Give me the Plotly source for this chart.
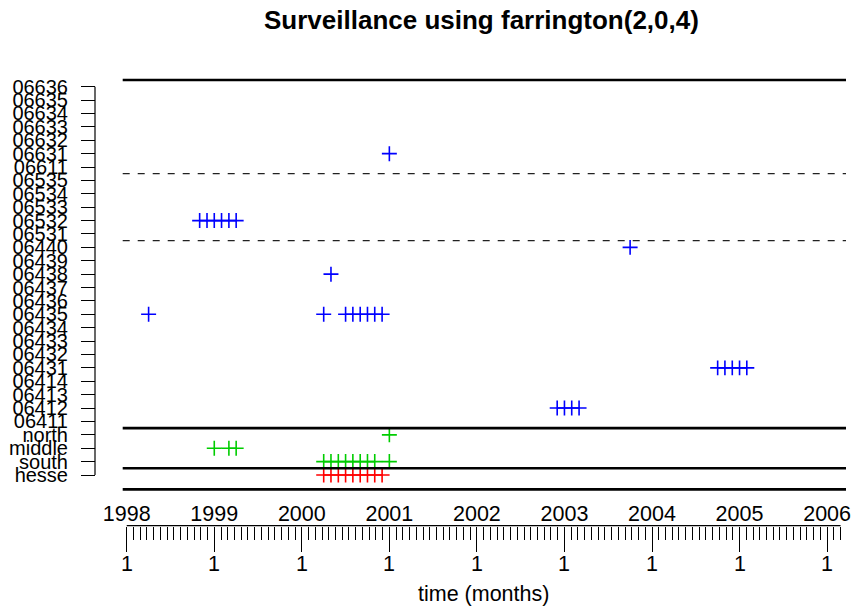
import plotly.graph_objects as go

# ---------------- data ----------------
levels = ["hesse", "south", "middle", "north",
          "06411", "06412", "06413", "06414", "06431", "06432", "06433",
          "06434", "06435", "06436", "06437", "06438", "06439", "06440",
          "06531", "06532", "06533", "06534", "06535", "06611",
          "06631", "06632", "06633", "06634", "06635", "06636"]

years = [1998, 1999, 2000, 2001, 2002, 2003, 2004, 2005, 2006]
year_labels = [str(y) for y in years]
period_labels = ["1"] * len(years)

# alarm times (decimal years) per level
alarm_hesse = [2000.25, 2000.333, 2000.417, 2000.5, 2000.583, 2000.667, 2000.75, 2000.833, 2000.917]
alarm_south = [2000.25, 2000.333, 2000.417, 2000.5, 2000.583, 2000.667, 2000.75, 2000.833, 2001.0]
alarm_middle = [1999.0, 1999.167, 1999.25]
alarm_north = [2001.0]
alarm_06412 = [2002.917, 2003.0, 2003.083, 2003.167]
alarm_06431 = [2004.75, 2004.833, 2004.917, 2005.0, 2005.083]
alarm_06435 = [1998.25, 2000.25, 2000.5, 2000.583, 2000.667, 2000.75, 2000.833, 2000.917]
alarm_06438 = [2000.333]
alarm_06440 = [2003.75]
alarm_06532 = [1998.833, 1998.917, 1999.0, 1999.083, 1999.167, 1999.25]
alarm_06631 = [2001.0]

series = [
    ("hesse", alarm_hesse, "#FF0000"),
    ("south", alarm_south, "#00CD00"),
    ("middle", alarm_middle, "#00CD00"),
    ("north", alarm_north, "#00CD00"),
    ("06412", alarm_06412, "#0000FF"),
    ("06431", alarm_06431, "#0000FF"),
    ("06435", alarm_06435, "#0000FF"),
    ("06438", alarm_06438, "#0000FF"),
    ("06440", alarm_06440, "#0000FF"),
    ("06532", alarm_06532, "#0000FF"),
    ("06631", alarm_06631, "#0000FF"),
]

solid_sep = [29.5, 3.5, 0.5, -1.07]
dashed_sep = [22.5, 17.5]

FONT = "Liberation Sans, Arial, Helvetica, sans-serif"

fig = go.Figure()
for name, times, col in series:
    idx = levels.index(name)
    fig.add_trace(go.Scatter(
        x=times, y=[idx] * len(times), mode="markers", name=name,
        marker=dict(symbol="cross-thin", size=10.7, color=col,
                    line=dict(width=1.6, color=col)),
        showlegend=False, hoverinfo="skip", cliponaxis=False))

# invisible trace to carry the year axis on top
fig.add_trace(go.Scatter(x=[years[0]], y=[0], xaxis="x2", mode="markers",
                         marker=dict(opacity=0), showlegend=False, hoverinfo="skip"))

xdom = [122.7 / 852, 846 / 852]
xr = [1997.954, 2006.216]
xpos = 1 - 525.7 / 613

minor_vals = [y + k / 13 for y in years for k in range(1, 13)]
minor_vals = [v for v in minor_vals if v <= years[-1] + 2 / 13 + 1e-9]

shapes = []
for yv in solid_sep:
    shapes.append(dict(type="line", xref="x domain", x0=0, x1=1, yref="y", y0=yv, y1=yv,
                       line=dict(color="black", width=2.6)))
for yv in dashed_sep:
    shapes.append(dict(type="line", xref="x domain", x0=0, x1=1, yref="y", y0=yv, y1=yv,
                       line=dict(color="#222222", width=1.3, dash="7px,8px")))
# y axis line from first to last tick
shapes.append(dict(type="line", xref="paper", x0=95 / 852, x1=95 / 852, yref="y",
                   y0=0, y1=len(levels) - 1, line=dict(color="black", width=1.2)))
# x axis line from first to last tick
shapes.append(dict(type="line", xref="x", x0=years[0], x1=years[-1] + 2 / 13,
                   yref="paper", y0=xpos, y1=xpos, line=dict(color="black", width=1.2)))

annotations = [
    dict(text="<b>Surveillance using farrington(2,0,4)</b>", xref="paper", yref="paper",
         x=482 / 852, y=1 - 20 / 613, xanchor="center", yanchor="middle",
         showarrow=False, font=dict(size=26, family=FONT)),
    dict(text="time (months)", xref="paper", yref="paper",
         x=483.4 / 852, y=1 - 594 / 613, xanchor="center", yanchor="middle",
         showarrow=False, font=dict(size=21.5, family=FONT)),
]
for yr, lab in zip(years, period_labels):
    annotations.append(dict(text=lab, xref="x", yref="paper", x=yr, y=1 - 564 / 613,
                            xanchor="center", yanchor="middle", showarrow=False,
                            font=dict(size=21.5, family=FONT)))

fig.update_layout(
    width=852, height=613, autosize=False,
    margin=dict(l=0, r=0, t=0, b=0),
    paper_bgcolor="white", plot_bgcolor="white",
    font=dict(family=FONT, color="black"),
    xaxis=dict(domain=xdom, range=xr, anchor="free", position=xpos,
               tickmode="array", tickvals=years, ticktext=period_labels,
               showticklabels=False,
               ticks="outside", ticklen=25, tickwidth=1.2, tickcolor="black",
               minor=dict(tickmode="array", tickvals=minor_vals, ticks="outside",
                          ticklen=13, tickwidth=1, tickcolor="black", showgrid=False),
               showline=False, showgrid=False, zeroline=False, automargin=False),
    xaxis2=dict(domain=xdom, range=xr, overlaying="x", matches="x", side="top",
                anchor="free", position=xpos,
                tickmode="array", tickvals=years, ticktext=year_labels,
                ticks="", showline=False, showgrid=False, zeroline=False,
                tickfont=dict(size=21.5, family=FONT), automargin=False),
    yaxis=dict(domain=[1 - 500 / 613, 1 - 60 / 613], range=[-1.867, 30.993],
               anchor="free", position=95 / 852,
               tickmode="array", tickvals=list(range(len(levels))), ticktext=levels,
               ticks="outside", ticklen=14, tickwidth=1.2, tickcolor="black",
               ticklabelstandoff=9,
               showline=False, showgrid=False, zeroline=False,
               tickfont=dict(size=20, family=FONT), automargin=False),
    shapes=shapes,
    annotations=annotations,
)

fig.write_html("out.html")
